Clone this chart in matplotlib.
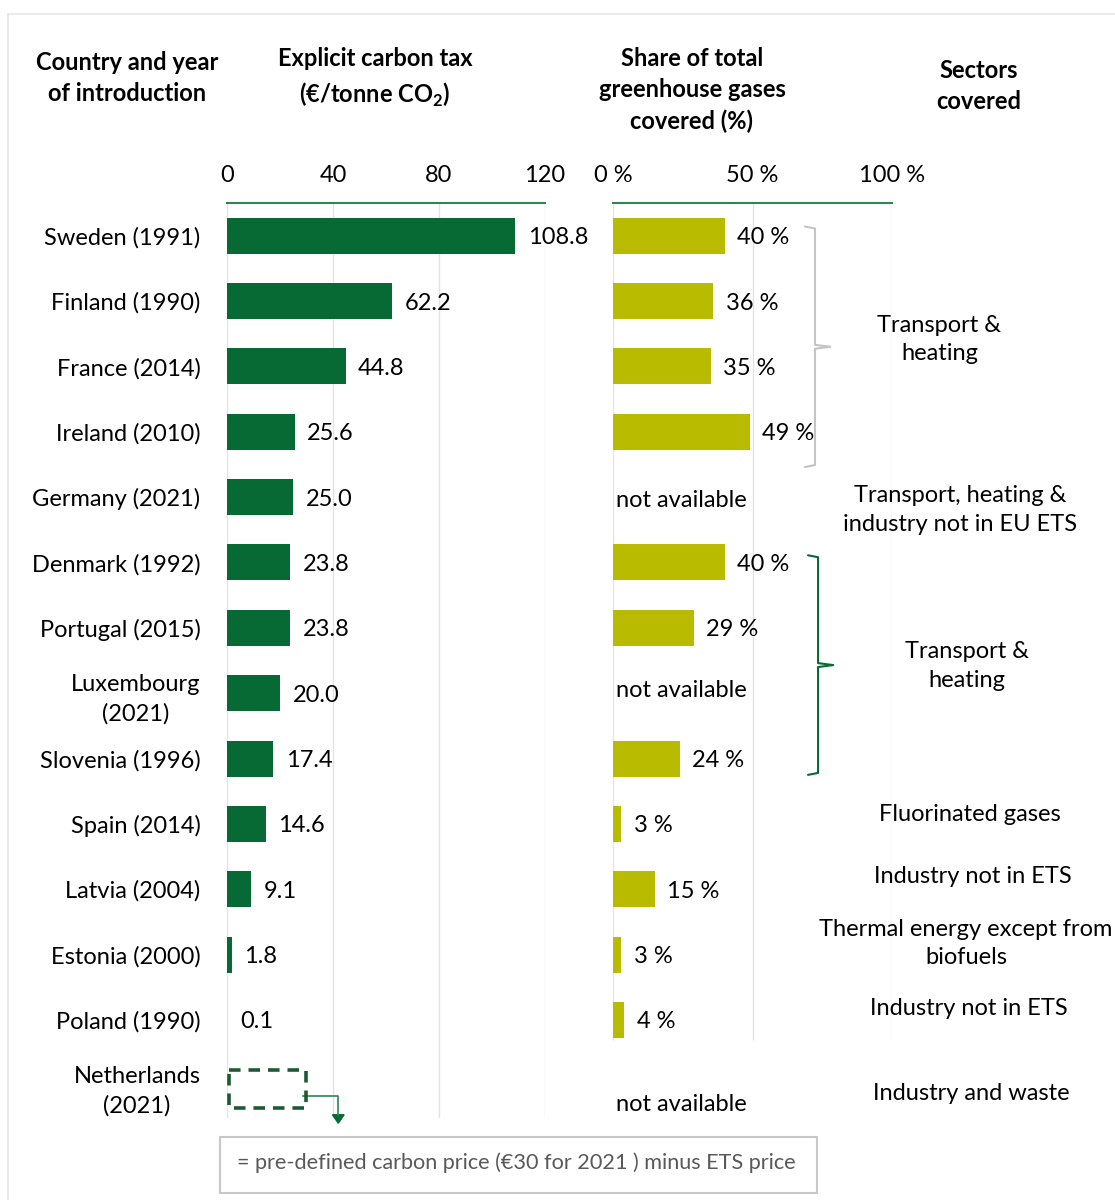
import matplotlib.pyplot as plt
from matplotlib.patches import Rectangle, Polygon
from matplotlib.lines import Line2D

# ---------- data ----------
countries = ["Sweden (1991)", "Finland (1990)", "France (2014)", "Ireland (2010)",
             "Germany (2021)", "Denmark (1992)", "Portugal (2015)", "Luxembourg\n(2021)",
             "Slovenia (1996)", "Spain (2014)", "Latvia (2004)", "Estonia (2000)",
             "Poland (1990)", "Netherlands\n(2021)"]
carbon_tax = [108.8, 62.2, 44.8, 25.6, 25.0, 23.8, 23.8, 20.0, 17.4, 14.6, 9.1, 1.8, 0.1, None]
ghg_share = [40, 36, 35, 49, None, 40, 29, None, 24, 3, 15, 3, 4, None]
tax_ticks = [0, 40, 80, 120]
share_ticks = [0, 50, 100]
share_ticklabels = ["0 %", "50 %", "100 %"]

sectors = ["Transport &\nheating", "Transport, heating &\nindustry not in EU ETS",
           "Transport &\nheating", "Fluorinated gases", "Industry not in ETS",
           "Thermal energy except from\nbiofuels", "Industry not in ETS", "Industry and waste"]
sector_first = [0, 4, 5, 9, 10, 11, 12, 13]
sector_last = [3, 4, 8, 9, 10, 11, 12, 13]

nl_price = 30  # pre-defined carbon price for 2021
note = "= pre-defined carbon price (€30 for 2021 ) minus ETS price"

# ---------- style ----------
GREEN = "#076a35"
LINE_GREEN = "#2e8555"
OLIVE = "#b9bb00"
GRID = "#e3e3e3"
FS = 17
LS = 1.45

plt.rcParams['font.family'] = ['Lato', 'DejaVu Sans']
plt.rcParams['mathtext.fontset'] = 'custom'
plt.rcParams['mathtext.rm'] = 'Lato'
plt.rcParams['mathtext.bf'] = 'Lato:bold'

W, H = 1115, 1200
fig = plt.figure(figsize=(W / 100, H / 100), dpi=100)

# outer light border
fig.add_artist(Line2D([8 / W, 8 / W], [0, 1 - 14 / H], color="#e6e6e6", lw=1.2))
fig.add_artist(Line2D([8 / W, 1], [1 - 14 / H, 1 - 14 / H], color="#e6e6e6", lw=1.2))

ax1 = fig.add_axes([227 / W, 1 - 1118 / H, 318 / W, 915 / H])
ax2 = fig.add_axes([613 / W, 1 - 1118 / H, 279 / W, 915 / H])

rows = list(range(len(countries)))
n = len(countries)

for ax in (ax1, ax2):
    ax.set_ylim(n - 0.5, -0.5)
    for side in ("left", "right", "bottom"):
        ax.spines[side].set_visible(False)
    ax.spines["top"].set_color(LINE_GREEN)
    ax.spines["top"].set_linewidth(1.5)
    ax.xaxis.tick_top()
    ax.tick_params(axis="x", length=0, pad=12, labelsize=FS)
    ax.set_facecolor("none")

# ---------- left panel: carbon tax ----------
ax1.set_xlim(0, 120)
ax1.vlines(tax_ticks, -0.5, n - 0.5, color=GRID, lw=1, zorder=0)
tax_rows = [r for r, v in zip(rows, carbon_tax) if v is not None]
tax_vals = [v for v in carbon_tax if v is not None]
bars = ax1.barh(tax_rows, tax_vals, height=0.55, color=GREEN, zorder=2)
for t in ax1.bar_label(bars, labels=[f"{v:.1f}" for v in tax_vals], padding=9, fontsize=FS):
    t.set_va("center_baseline")
ax1.set_xticks(tax_ticks)
ax1.set_yticks(rows, countries)
ax1.tick_params(axis="y", length=0, pad=19, labelsize=FS)
for lbl in ax1.get_yticklabels():
    lbl.set_multialignment("center")
    lbl.set_linespacing(LS)

# Netherlands: dashed box + arrow
nl_row = n - 1
ax1.add_patch(Rectangle((0.7, nl_row - 0.23), nl_price - 1, 0.58, fill=False,
                        edgecolor="#1d5a31", lw=2.6, linestyle=(0, (3.2, 2.2)),
                        clip_on=False, zorder=3))
ax1.plot([nl_price - 1.5, 42, 42], [nl_row + 0.17, nl_row + 0.17, nl_row + 0.45],
         color=LINE_GREEN, lw=1.2, clip_on=False)
ax1.add_patch(Polygon([[39.8, nl_row + 0.45], [44.2, nl_row + 0.45], [42, nl_row + 0.58]],
                      closed=True, color=GREEN, clip_on=False))

# ---------- right panel: share of GHG ----------
ax2.set_xlim(0, 100)
ax2.vlines(share_ticks, -0.5, 12.3, color=GRID, lw=1, zorder=0)
sh_rows = [r for r, v in zip(rows, ghg_share) if v is not None]
sh_vals = [v for v in ghg_share if v is not None]
bars2 = ax2.barh(sh_rows, sh_vals, height=0.55, color=OLIVE, zorder=2)
for t in ax2.bar_label(bars2, labels=[f"{v} %" for v in sh_vals], padding=9, fontsize=FS):
    t.set_va("center_baseline")
ax2.set_xticks(share_ticks, share_ticklabels)
ax2.set_yticks([])
na_offset = {4: 0.02, 7: -0.07, 13: 0.27}
for r, v in zip(rows, ghg_share):
    if v is None:
        ax2.text(1.2, r + na_offset.get(r, 0), "not available", ha="left",
                 va="center_baseline", fontsize=FS, clip_on=False)

# sectors column
sector_x = [117, 124.5, 127, 128, 129, 126.5, 127.5, 128.5]
sector_dy = [0.09, 0.2, 0.08, -0.14, -0.2, -0.17, -0.17, 0.12]
for lab, a, b, sx, dy in zip(sectors, sector_first, sector_last, sector_x, sector_dy):
    ax2.text(sx, (a + b) / 2 + dy, lab, ha="center", va="center", fontsize=FS,
             linespacing=LS, clip_on=False)


def brace(ax, x, y0, y1, ytip, color):
    hook, tip = 3.6, 5.4
    ax.plot([x - hook, x, x, x + tip], [y0, y0 + 0.03, ytip - 0.03, ytip],
             color=color, lw=1.5, clip_on=False, solid_capstyle="round")
    ax.plot([x + tip, x, x, x - hook], [ytip, ytip + 0.03, y1 - 0.03, y1],
             color=color, lw=1.5, clip_on=False, solid_capstyle="round")


brace(ax2, 72.4, -0.14, 3.54, 1.7, "#c4c4c4")
brace(ax2, 73.5, 4.89, 8.25, 6.57, GREEN)

# ---------- headers ----------
hdr = dict(ha="center", va="center", fontsize=FS, fontweight="bold", linespacing=LS)
fig.text(127 / W, 1 - 78 / H, "Country and year\nof introduction", **hdr)
fig.text(375 / W, 1 - 78 / H, "Explicit carbon tax\n(€/tonne CO$_\\mathbf{2}$)", **hdr)
fig.text(692 / W, 1 - 90 / H, "Share of total\ngreenhouse gases\ncovered (%)", **hdr)
fig.text(979 / W, 1 - 86 / H, "Sectors\ncovered", **hdr)

# ---------- footnote box ----------
fig.add_artist(Rectangle((220 / W, 1 - 1193 / H), 597 / W, 56 / H, transform=fig.transFigure,
                         fill=False, edgecolor="#c8c8c8", lw=1.5))
fig.text(516 / W, 1 - 1161 / H, note, ha="center", va="center_baseline", fontsize=15.6,
         color="#595959")

fig.savefig("out.png", dpi=100)
